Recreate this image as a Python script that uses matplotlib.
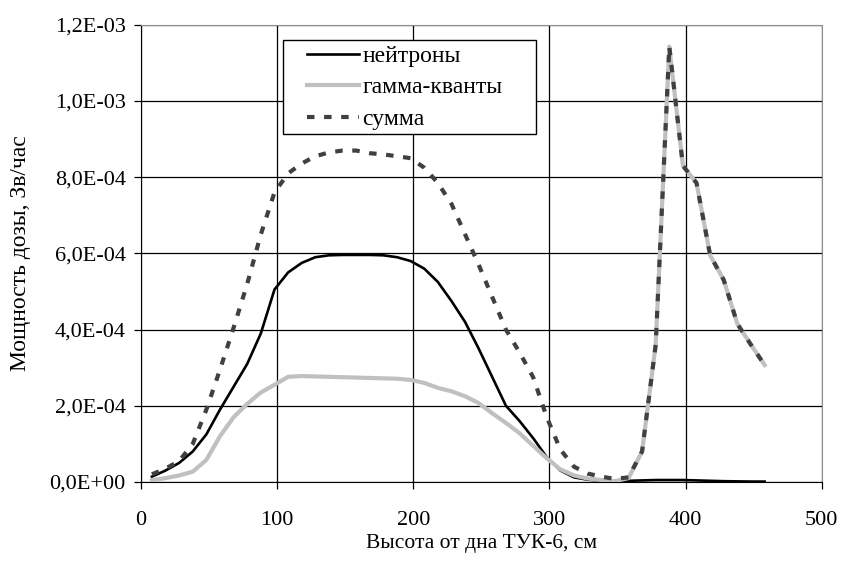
import matplotlib
matplotlib.use("Agg")
import matplotlib.pyplot as plt
from matplotlib.patches import Rectangle
from matplotlib.ticker import FuncFormatter, MultipleLocator

plt.rcParams['font.family'] = ['Liberation Serif', 'DejaVu Serif']

# height from the bottom of the cask, cm
height = [8, 18, 28, 38, 48, 58, 68, 78, 88, 98,
          108, 118, 128, 138, 148, 158, 168, 178, 188, 198,
          208, 218, 228, 238, 248, 258, 268, 278, 288, 298,
          308, 318, 328, 338, 348, 358, 368, 378, 388, 398,
          408, 418, 428, 438, 448, 458]

# dose rate, 1e-4 Sv/h
neutrons = [0.14, 0.3, 0.5, 0.8, 1.25, 1.9, 2.5, 3.1, 3.9, 5.05,
            5.5, 5.75, 5.9, 5.95, 5.96, 5.96, 5.96, 5.95, 5.9, 5.8,
            5.6, 5.25, 4.75, 4.2, 3.5, 2.75, 2.0, 1.6, 1.15, 0.65,
            0.3, 0.12, 0.06, 0.03, 0.02, 0.03, 0.04, 0.05, 0.05, 0.05,
            0.04, 0.03, 0.02, 0.015, 0.01, 0.01]
gamma = [0.05, 0.1, 0.17, 0.27, 0.58, 1.2, 1.7, 2.05, 2.35, 2.55,
         2.76, 2.78, 2.77, 2.76, 2.75, 2.74, 2.73, 2.72, 2.71, 2.68,
         2.6, 2.47, 2.38, 2.25, 2.07, 1.8, 1.55, 1.28, 0.95, 0.62,
         0.33, 0.17, 0.09, 0.05, 0.02, 0.1, 0.8, 3.6, 11.43, 8.3,
         7.85, 5.95, 5.3, 4.15, 3.6, 3.07]
total = [0.2, 0.35, 0.55, 1.0, 1.9, 2.95, 4.05, 5.2, 6.5, 7.6,
         8.1, 8.36, 8.55, 8.65, 8.7, 8.7, 8.63, 8.6, 8.55, 8.5,
         8.25, 7.85, 7.3, 6.5, 5.7, 4.85, 4.0, 3.4, 2.75, 1.7,
         0.85, 0.4, 0.22, 0.14, 0.08, 0.12, 0.8, 3.6, 11.43, 8.3,
         7.85, 5.95, 5.3, 4.15, 3.6, 3.07]

labels = ['нейтроны', 'гамма-кванты', 'сумма']

scale = 1e-4
fig = plt.figure(figsize=(8.42, 5.65), dpi=100)
ax = fig.add_axes([0.1675, 0.147, 0.8085, 0.809])

ax.plot(height, [v * scale for v in neutrons], color='black', lw=1.9, label=labels[0], zorder=3)
ax.plot(height, [v * scale for v in gamma], color='#c0c0c0', lw=3.0, label=labels[1], zorder=4)
ax.plot(height, [v * scale for v in total], color='#404040', lw=3.0,
        linestyle=(0, (1.8, 2.3)), label=labels[2], zorder=5)

ax.set_xlim(0, 500)
ax.set_ylim(0, 1.2e-3)
ax.xaxis.set_major_locator(MultipleLocator(100))
ax.yaxis.set_major_locator(MultipleLocator(2e-4))
ax.yaxis.set_major_formatter(FuncFormatter(lambda v, p: f"{v:.1E}".replace('.', ',')))

ax.grid(True, color='black', lw=0.9)
ax.set_axisbelow(True)
for side in ['top', 'right']:
    ax.spines[side].set_color('#909090')
for side in ['left', 'bottom']:
    ax.spines[side].set_color('black')
ax.tick_params(axis='both', direction='out', length=5, width=0.9, labelsize=16)
ax.tick_params(axis='x', pad=16)
ax.tick_params(axis='y', pad=6)

ax.set_xlabel('Высота от дна ТУК-6, см', fontsize=15.5, labelpad=3)
ax.set_ylabel('Мощность дозы, Зв/час', fontsize=17, labelpad=13)

# legend box drawn separately so the padding matches the original
box = Rectangle((0.208, 0.7615), 0.372, 0.2057, transform=ax.transAxes,
                facecolor='white', edgecolor='black', lw=1.0, zorder=6)
ax.add_patch(box)
leg = ax.legend(loc='upper left', bbox_to_anchor=(0.2438, 0.955), fontsize=17,
                frameon=False, handlelength=2.2, handletextpad=0.15,
                borderpad=0, labelspacing=0.42, borderaxespad=0)
leg.set_zorder(7)

fig.savefig('out.png', dpi=100)
